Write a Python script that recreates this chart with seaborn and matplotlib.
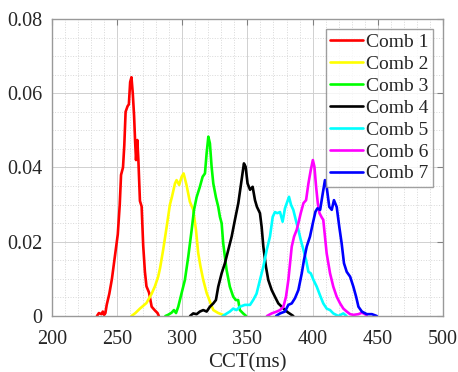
import numpy as np
import pandas as pd
import matplotlib
matplotlib.use("Agg")
import matplotlib.pyplot as plt
import seaborn as sns
from matplotlib.ticker import MultipleLocator

# data (CCT in ms, probability density)
comb1_x = [234.5, 236, 238, 239, 240, 241, 242, 244, 246, 247.5, 249, 250.5, 252, 253, 254.5, 255.5,
           256.5, 258, 259, 260, 261, 262, 263, 263.8, 264.5, 265.5, 266.3, 267.5, 268.8, 270, 271.3,
           272.5, 274.5, 276.5, 279, 281, 282]
comb1_y = [0, 0.0008, 0.0005, 0.0012, 0.0003, 0.0008, 0.003, 0.006, 0.010, 0.014, 0.018, 0.022, 0.030,
           0.038, 0.040, 0.046, 0.055, 0.0565, 0.057, 0.063, 0.0643, 0.060, 0.054, 0.047, 0.042, 0.0474,
           0.042, 0.031, 0.0295, 0.019, 0.012, 0.008, 0.0063, 0.0025, 0.0015, 0.0008, 0]

comb2_x = [261, 264, 267.5, 272.5, 276.5, 279, 281.5, 283, 285.4, 288, 290.5, 292, 294.4, 295.6, 297.6,
           299.5, 301, 303.3, 305.8, 308.4, 310.5, 312.2, 314, 316.1, 318.7, 321.2, 323.8, 327.6, 331.4, 333]
comb2_y = [0, 0.0008, 0.002, 0.0035, 0.006, 0.008, 0.0106, 0.013, 0.018, 0.024, 0.030, 0.032, 0.0357,
           0.0366, 0.0353, 0.0375, 0.0384, 0.0352, 0.0308, 0.0286, 0.0232, 0.017, 0.0133, 0.0097, 0.0062,
           0.0039, 0.0016, 0.0008, 0.0003, 0]

comb3_x = [287, 289, 291.8, 293.6, 295.2, 296.9, 299.5, 302, 304.6, 307.2, 309, 311, 313.5, 315.6, 317.4,
           318.7, 320, 321.2, 322.5, 323.8, 325.8, 327.6, 328.9, 330.2, 331.4, 332.7, 334, 336.5, 339.1,
           341.1, 342.9, 344.2, 346.7, 349]
comb3_y = [0, 0.0003, 0.0009, 0.0016, 0.0008, 0.0025, 0.0062, 0.0097, 0.016, 0.0232, 0.0286, 0.032,
           0.0348, 0.0375, 0.0384, 0.0439, 0.0483, 0.0465, 0.0402, 0.0357, 0.032, 0.0294, 0.0267, 0.025,
           0.0196, 0.016, 0.0124, 0.0079, 0.0052, 0.0043, 0.0043, 0.0016, 0.0007, 0]

comb4_x = [306, 308.4, 311, 313.5, 316.1, 318.7, 321.2, 323.8, 325.8, 327.6, 330.2, 332.7, 335.3, 337.9,
           340.4, 343, 345.5, 347.3, 348.6, 350.1, 352, 354, 355.8, 357.3, 359.6, 360.9, 362.2, 364.2,
           366, 368.6, 371.1, 373.7, 376.3, 378.8, 381.4, 385.2]
comb4_y = [0, 0.0007, 0.0005, 0.0012, 0.0016, 0.0012, 0.0025, 0.0034, 0.0043, 0.0079, 0.0115, 0.0142,
           0.0178, 0.0214, 0.0259, 0.0304, 0.0366, 0.0411, 0.0402, 0.0357, 0.034, 0.0348, 0.0312, 0.0294,
           0.0277, 0.024, 0.0187, 0.0133, 0.0097, 0.007, 0.0052, 0.0034, 0.0025, 0.0016, 0.0009, 0]

comb5_x = [331, 336.5, 339.1, 341.6, 344.2, 348, 352, 354.4, 357, 359.6, 362.2, 364.8, 367.3, 369.4,
           371.1, 372.9, 375, 377, 378.8, 380.6, 381.9, 383.5, 385.2, 387.1, 389.1, 390.9, 393, 395,
           396.8, 398.6, 400.7, 403.2, 405.8, 408.2, 410.8, 413.4, 415.9, 419.7, 423.6, 426]
comb5_y = [0, 0.0012, 0.002, 0.0016, 0.0025, 0.003, 0.003, 0.0043, 0.006, 0.0097, 0.0133, 0.0178,
           0.0214, 0.0267, 0.028, 0.0277, 0.028, 0.0254, 0.029, 0.0308, 0.0321, 0.0299, 0.0286, 0.0259,
           0.0232, 0.0205, 0.0178, 0.0151, 0.0119, 0.0115, 0.0097, 0.0079, 0.0055, 0.0034, 0.002, 0.0016,
           0.0007, 0, 0.0007, 0]

comb6_x = [365, 368.6, 372.5, 375, 377.6, 379.6, 381.4, 382.7, 384, 385.8, 387.8, 389.1, 390.9, 393, 395,
           396.8, 398.6, 400.2, 401.4, 402.7, 404, 405.3, 407.1, 408.2, 409.5, 410.8, 413.4, 415.9, 418.5,
           421.1, 423.6, 426.2, 428.8, 431.3, 435.2, 437.8, 440.3, 441.6]
comb6_y = [0, 0.0007, 0.0012, 0.0016, 0.0025, 0.0052, 0.0097, 0.0142, 0.0187, 0.0214, 0.0232, 0.025,
           0.0277, 0.0304, 0.0312, 0.0357, 0.0393, 0.042, 0.0402, 0.0348, 0.0304, 0.0277, 0.0265, 0.0259,
           0.0214, 0.0169, 0.0115, 0.0079, 0.0052, 0.0034, 0.002, 0.0012, 0.0005, 0.0003, 0.0005, 0.0009,
           0.0005, 0]

comb7_x = [372, 375, 378.8, 381.4, 384, 386.5, 389.1, 391.7, 393.4, 395.5, 398, 400.2, 402.2, 403.7,
           405.8, 407.8, 409.5, 410.8, 412.8, 414.7, 416.4, 418.5, 420.5, 422.3, 424.1, 426.2, 428.8,
           431.3, 433.4, 435.2, 437.8, 441.6, 445.5, 449.3]
comb7_y = [0, 0.0007, 0.0012, 0.003, 0.0034, 0.0048, 0.007, 0.0115, 0.0151, 0.0187, 0.0214, 0.025,
           0.0281, 0.029, 0.0286, 0.033, 0.0366, 0.0348, 0.0294, 0.0286, 0.0312, 0.0294, 0.024, 0.0196,
           0.0142, 0.0119, 0.0106, 0.0079, 0.0052, 0.0025, 0.0012, 0.0005, 0.0005, 0]

labels = ["Comb 1", "Comb 2", "Comb 3", "Comb 4", "Comb 5", "Comb 6", "Comb 7"]
colors = ["#ff0000", "#ffff00", "#00ff00", "#000000", "#00ffff", "#ff00ff", "#0000ff"]
xs = [comb1_x, comb2_x, comb3_x, comb4_x, comb5_x, comb6_x, comb7_x]
ys = [comb1_y, comb2_y, comb3_y, comb4_y, comb5_y, comb6_y, comb7_y]

sns.set_style("white")
plt.rcParams['font.family'] = ['Liberation Serif', 'DejaVu Serif']

fig = plt.figure(figsize=(4.58, 3.72), dpi=100)
ax = fig.add_axes([0.1135, 0.1505, 0.8535, 0.7985])

for x, y, lab, col in zip(xs, ys, labels, colors):
    sns.lineplot(x=x, y=y, ax=ax, color=col, label=lab, lw=1.9, sort=False)

ax.set_xlim(200, 500)
ax.set_ylim(0, 0.08)
ax.xaxis.set_major_locator(MultipleLocator(50))
ax.xaxis.set_minor_locator(MultipleLocator(10))
ax.yaxis.set_major_locator(MultipleLocator(0.02))
ax.yaxis.set_minor_locator(MultipleLocator(0.005))
ax.yaxis.set_major_formatter(plt.FuncFormatter(lambda v, p: "0" if v == 0 else f"{v:.2f}"))

ax.grid(which='major', color='#d0d0d0', lw=0.7, ls='-')
ax.grid(which='minor', color='#d8d8d8', lw=0.7, ls=':')
ax.tick_params(which='major', direction='in', length=4, color='#808080',
               labelsize=14.5, top=True, right=True)
ax.tick_params(axis='x', pad=10)
ax.tick_params(axis='y', pad=7)
ax.tick_params(which='minor', length=0)
for s in ax.spines.values():
    s.set_color('#999999')
    s.set_linewidth(1.0)

ax.set_xlabel("CCT(ms)", fontsize=15, labelpad=3)
ax.set_ylabel("")

leg = ax.legend(loc='upper right', fontsize=14, frameon=True, fancybox=False,
                handlelength=1.7, handletextpad=0.12, labelspacing=0.22,
                borderpad=0.25, borderaxespad=0.5)
leg.get_frame().set_edgecolor('#888888')
leg.get_frame().set_linewidth(1.0)

fig.savefig("out.png", dpi=100)
